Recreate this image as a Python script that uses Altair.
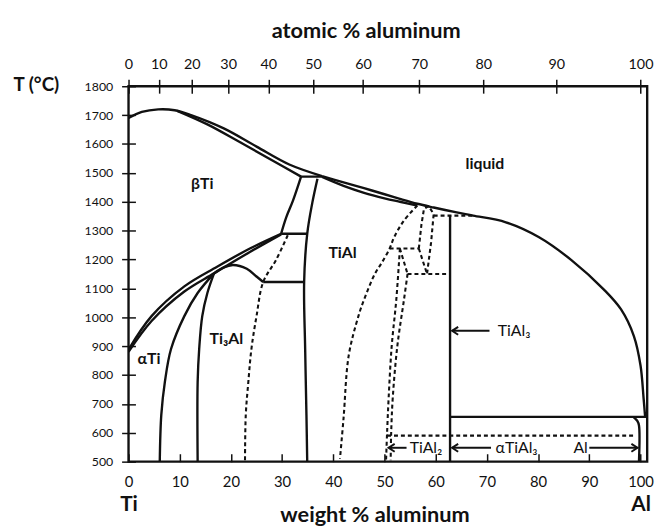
import altair as alt
import pandas as pd

INK = "#111111"
FONT = "Lato"
X_MAX = 101.3

# ---------- curve data: weight % Al  /  temperature (°C) ----------
LIQ_L_WT = [0, 2.6, 5.8, 9.0, 12.2, 18.6, 25.0, 31.4, 37.8]
LIQ_L_T = [1690, 1711, 1720, 1717, 1700, 1654, 1591, 1529, 1489]

LIQ_R_WT = [37.8, 42, 46, 50, 53, 56.4, 59.6, 64.1, 67.3, 73.7, 80.1, 86.5, 92.9, 96.2, 98.7, 100.0, 100.6, 100.9]
LIQ_R_T = [1489, 1467, 1447, 1426, 1410, 1393, 1380, 1363, 1352, 1329, 1278, 1198, 1095, 1027, 935, 833, 719, 655]

SOL_BETA_WT = [9.5, 15.4, 21.8, 28.2, 33.7]
SOL_BETA_T = [1715, 1668, 1606, 1542, 1487]

SOL_ALPHA_WT = [37.8, 42, 46, 50, 53, 56.4]
SOL_ALPHA_T = [1486, 1455, 1431, 1412, 1400, 1387]

ATR_OUT_WT = [0, 4.5, 10.9, 17.3, 23.7, 29.8]
ATR_OUT_T = [888, 1004, 1107, 1175, 1238, 1289]

ATR_IN_WT = [0, 4.5, 10.9, 16.7, 23.7, 29.8]
ATR_IN_T = [880, 987, 1089, 1152, 1226, 1287]

LINE_A_WT = [33.7, 32.1, 30.8, 29.8]
LINE_A_T = [1487, 1403, 1346, 1289]

LINE_B_WT = [36.9, 35.9, 34.9, 34.3, 34.5, 34.75, 34.9]
LINE_B_T = [1480, 1397, 1289, 1122, 890, 662, 500]

DOME_WT = [16.7, 18.5, 20.4, 23.1, 25.0, 26.3]
DOME_T = [1152, 1172, 1181, 1168, 1141, 1122]

C1_WT = [16.7, 13.5, 10.9, 8.3, 7.1, 6.4, 6.1]
C1_T = [1152, 1084, 1004, 890, 776, 662, 500]

C2_WT = [16.7, 15.4, 14.4, 13.8, 13.5, 13.5]
C2_T = [1152, 1084, 1004, 890, 776, 500]

AL_SOLVUS_WT = [98.6, 99.4, 99.7, 99.7]
AL_SOLVUS_T = [655, 640, 625, 500]

PERITECTIC_WT = [33.7, 37.8]
PERITECTIC_T = [1487, 1487]
H1289_WT = [29.8, 34.9]
H1289_T = [1289, 1289]
H1122_WT = [26.3, 34.3]
H1122_T = [1122, 1122]
TIAL3_WT = [62.8, 62.8]
TIAL3_T = [1352, 500]
H655_WT = [62.8, X_MAX]
H655_T = [655, 655]

# dashed boundaries
D1_WT = [56.4, 53.8, 51.9, 51.0, 49.4, 48.1, 46.0, 44.9, 43.0, 42.0, 41.3]
D1_T = [1387, 1335, 1278, 1238, 1187, 1150, 1061, 1004, 867, 651, 510]

TI3AL_R_WT = [31.1, 28.8, 26.3, 25.0, 24.0, 23.4, 22.9, 22.75]
TI3AL_R_T = [1284, 1198, 1122, 1004, 890, 776, 662, 505]

TIAL2_L_WT = [53.0, 52.3, 51.4, 50.8, 50.5, 50.3]
TIAL2_L_T = [1238, 1061, 900, 719, 600, 505]

TIAL2_R_WT = [54.5, 53.8, 52.5, 51.6, 51.3, 51.2]
TIAL2_R_T = [1150, 1061, 900, 719, 600, 505]

TIAL2_TOP_WT = [53.0, 54.5]
TIAL2_TOP_T = [1238, 1150]

H1238_WT = [51.0, 56.7]
H1238_T = [1238, 1238]

LOOP_WT = [56.7, 57.2, 57.7, 58.6, 59.6, 59.1, 58.3]
LOOP_T = [1238, 1320, 1375, 1385, 1358, 1260, 1150]

DIAG_WT = [56.7, 58.3]
DIAG_T = [1238, 1150]

H1150_WT = [54.5, 62.8]
H1150_T = [1150, 1150]

H1352_WT = [59.6, 67.3]
H1352_T = [1352, 1352]

H590_WT = [50.5, 99.0]
H590_T = [590, 590]

CURVES = [
    ("liq_left", LIQ_L_WT, LIQ_L_T, "solid_smooth"),
    ("liq_right", LIQ_R_WT, LIQ_R_T, "solid_smooth"),
    ("sol_beta", SOL_BETA_WT, SOL_BETA_T, "solid_smooth"),
    ("sol_alpha", SOL_ALPHA_WT, SOL_ALPHA_T, "solid_smooth"),
    ("atr_out", ATR_OUT_WT, ATR_OUT_T, "solid_smooth"),
    ("atr_in", ATR_IN_WT, ATR_IN_T, "solid_smooth"),
    ("line_a", LINE_A_WT, LINE_A_T, "solid_smooth"),
    ("line_b", LINE_B_WT, LINE_B_T, "solid_smooth"),
    ("dome", DOME_WT, DOME_T, "solid_smooth"),
    ("c1", C1_WT, C1_T, "solid_smooth"),
    ("c2", C2_WT, C2_T, "solid_smooth"),
    ("al_solvus", AL_SOLVUS_WT, AL_SOLVUS_T, "solid_smooth"),
    ("peritectic", PERITECTIC_WT, PERITECTIC_T, "solid_linear"),
    ("h1289", H1289_WT, H1289_T, "solid_linear"),
    ("h1122", H1122_WT, H1122_T, "solid_linear"),
    ("tial3", TIAL3_WT, TIAL3_T, "solid_linear"),
    ("h655", H655_WT, H655_T, "solid_linear"),
    ("d1", D1_WT, D1_T, "dash_smooth"),
    ("ti3al_r", TI3AL_R_WT, TI3AL_R_T, "dash_smooth"),
    ("tial2_l", TIAL2_L_WT, TIAL2_L_T, "dash_smooth"),
    ("tial2_r", TIAL2_R_WT, TIAL2_R_T, "dash_smooth"),
    ("tial2_top", TIAL2_TOP_WT, TIAL2_TOP_T, "dash_linear"),
    ("h1238", H1238_WT, H1238_T, "dash_linear"),
    ("loop", LOOP_WT, LOOP_T, "dash_linear"),
    ("diag", DIAG_WT, DIAG_T, "dash_linear"),
    ("h1150", H1150_WT, H1150_T, "dash_linear"),
    ("h1352", H1352_WT, H1352_T, "dash_linear"),
    ("h590", H590_WT, H590_T, "dash_linear"),
]

REGION_LABELS = ["βTi", "liquid", "TiAl", "Ti₃Al", "αTi"]
REGION_WT = [14.4, 69.6, 41.8, 19.1, 4.0]
REGION_T = [1461, 1530, 1222, 925, 856]

ARROW_LABELS = ["TiAl₃", "TiAl₂", "αTiAl₃", "Al"]
ARROW_LABEL_WT = [75.3, 58.1, 75.8, 88.3]
ARROW_TIP = [63.2, 50.8, 63.2, 99.4]
ARROW_TAIL = [70.5, 54.3, 70.8, 90.0]
ARROW_T = [953, 548, 548, 548]
ARROW_DIR = ["left", "left", "left", "right"]

WT_TICKS = [0, 10, 20, 30, 40, 50, 60, 70, 80, 90, 100]
AT_TICKS = [0, 10, 20, 30, 40, 50, 60, 70, 80, 90, 100]
T_TICKS = list(range(500, 1801, 100))
TI_MASS, AL_MASS = 47.87, 26.98
TOP_POS = [100 * a * AL_MASS / (a * AL_MASS + (100 - a) * TI_MASS) for a in AT_TICKS]

# ---------- tables ----------
rows = []
for name, wts, ts, kind in CURVES:
    for i, (w, t) in enumerate(zip(wts, ts)):
        rows.append({"curve": name, "i": i, "wt": w, "T": t, "kind": kind})
df = pd.DataFrame(rows)

reg = pd.DataFrame({"label": REGION_LABELS, "wt": REGION_WT, "T": REGION_T})
arr_lab = pd.DataFrame({"label": ARROW_LABELS, "wt": ARROW_LABEL_WT, "T": ARROW_T})
arr = pd.DataFrame({"tip": ARROW_TIP, "tail": ARROW_TAIL, "T": ARROW_T, "dir": ARROW_DIR})
ax_df = pd.DataFrame({"wt": [0, X_MAX], "T": [500, 1800]})

xs = alt.Scale(domain=[0, X_MAX], nice=False, zero=False)
ys = alt.Scale(domain=[500, 1800], nice=False, zero=False)


def X(field, axis=None):
    return alt.X(field, type="quantitative", scale=xs, axis=axis)


def Y(field, axis=None):
    return alt.Y(field, type="quantitative", scale=ys, axis=axis)


def curve_layer(kind, interp, dash=None):
    mk = dict(color=INK, interpolate=interp, clip=True, strokeJoin="round")
    if dash:
        mk["strokeDash"] = dash
        mk["strokeWidth"] = 2.1
    else:
        mk["strokeWidth"] = 2.4
    return (
        alt.Chart(df)
        .transform_filter(alt.datum.kind == kind)
        .mark_line(**mk)
        .encode(x=X("wt"), y=Y("T"), detail="curve:N", order="i:Q")
    )


layers = [
    curve_layer("solid_smooth", "catmull-rom"),
    curve_layer("solid_linear", "linear"),
    curve_layer("dash_smooth", "catmull-rom", [4, 3]),
    curve_layer("dash_linear", "linear", [4, 3]),
]

layers.append(
    alt.Chart(reg).mark_text(font=FONT, fontSize=16, fontWeight="bold", color=INK)
    .encode(x=X("wt"), y=Y("T"), text="label:N")
)
layers.append(
    alt.Chart(arr_lab).mark_text(font=FONT, fontSize=16, color=INK)
    .encode(x=X("wt"), y=Y("T"), text="label:N")
)
layers.append(
    alt.Chart(arr).mark_rule(color=INK, strokeWidth=2)
    .encode(x=X("tip"), x2="tail:Q", y=Y("T"))
)
layers.append(
    alt.Chart(arr).transform_filter(alt.datum.dir == "left")
    .mark_point(shape="M1,-0.65L0,0L1,0.65", size=150, filled=False, strokeWidth=2,
                color=INK, opacity=1)
    .encode(x=X("tip"), y=Y("T"))
)
layers.append(
    alt.Chart(arr).transform_filter(alt.datum.dir == "right")
    .mark_point(shape="M-1,-0.65L0,0L-1,0.65", size=150, filled=False, strokeWidth=2,
                color=INK, opacity=1)
    .encode(x=X("tip"), y=Y("T"))
)

common = dict(grid=False, labelFont=FONT, titleFont=FONT, labelColor=INK, titleColor=INK,
              tickColor=INK, domain=False, labelFlush=False, labelOverlap=False)

axes = [
    (alt.Axis(orient="bottom", values=WT_TICKS, ticks=False, tickSize=0, labelFontSize=15,
              labelPadding=13, title=None, **common), None),
    (alt.Axis(orient="bottom", values=WT_TICKS, labels=False, tickSize=8, tickWidth=1.5,
              offset=-8, title=None, **common), None),
    (alt.Axis(orient="bottom", values=[0, 100], labelExpr="datum.value == 0 ? 'Ti' : 'Al'",
              ticks=False, tickSize=0, labelFontSize=21, labelFontWeight="bold", labelPadding=32,
              title="weight % aluminum", titleFontSize=22, titleFontWeight="bold",
              titleX=249, titleY=61, titleAlign="center", titleBaseline="alphabetic", **common), None),
    (alt.Axis(orient="top", values=TOP_POS,
              labelExpr="format(100 * (datum.value / 26.98) / (datum.value / 26.98 + (100 - datum.value) / 47.87), '.0f')",
              tickSize=7, tickWidth=1.5, labelFontSize=14.5, labelPadding=8,
              title="atomic % aluminum", titleFontSize=22, titleFontWeight="bold",
              titleX=240, titleY=-49, titleAlign="center", titleBaseline="alphabetic", **common), None),
    (alt.Axis(orient="top", values=TOP_POS, labels=False, tickSize=7, tickWidth=1.5, offset=-7,
              title=None, **common), None),
    (None, alt.Axis(orient="left", values=T_TICKS, format="d", tickSize=7, tickWidth=1.5,
                    labelFontSize=12.5, labelPadding=9, title="T (°C)", titleAngle=0,
                    titleAlign="left", titleBaseline="middle", titleX=-117, titleY=-2,
                    titleFontSize=19, titleFontWeight="bold", **common)),
    (None, alt.Axis(orient="left", values=T_TICKS, labels=False, tickSize=7, tickWidth=1.5,
                    offset=-7, title=None, **common)),
]
for xa, ya in axes:
    layers.append(
        alt.Chart(ax_df).mark_point(opacity=0).encode(x=X("wt", xa), y=Y("T", ya))
    )

chart = (
    alt.layer(*layers)
    .resolve_scale(x="independent", y="independent")
    .resolve_axis(x="independent", y="independent")
    .properties(width=525, height=380,
                autosize=alt.AutoSizeParams(type="none"),
                padding={"left": 122, "top": 76, "right": 15, "bottom": 67})
    .configure_view(stroke=INK, strokeWidth=2.4)
)

chart.save("out.html", embed_options={"renderer": "svg", "actions": False})
